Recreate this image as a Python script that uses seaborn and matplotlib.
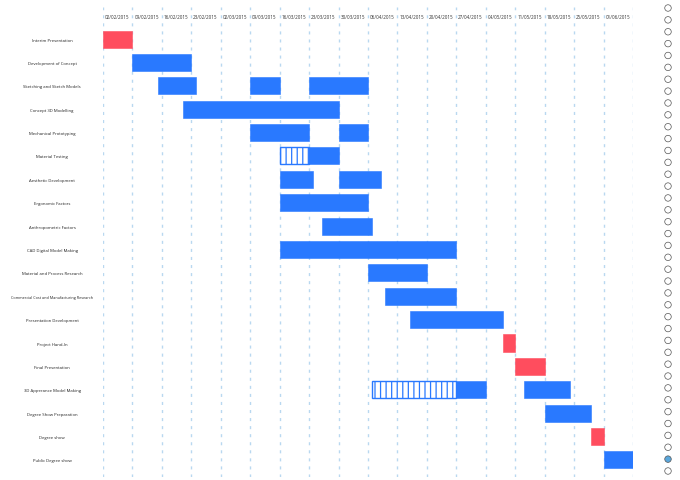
import matplotlib
matplotlib.use("Agg")
import matplotlib.pyplot as plt
import seaborn as sns
import pandas as pd
import numpy as np

# ---------------- data ----------------
tasks = [
    "Interim Presentation", "Development of Concept", "Sketching and Sketch Models",
    "Concept 3D Modelling", "Mechanical Prototyping", "Material Testing",
    "Aesthetic Development", "Ergonomic Factors", "Anthropometric Factors",
    "CAD Digital Model Making", "Material and Process Research",
    "Commercial Cost and Manufacturing Research", "Presentation Development",
    "Project Hand-In", "Final Presentation", "3D Apperance Model Making",
    "Degree Show Preparation", "Degree show", "Public Degree show",
]

seg_task = [0, 1, 2, 2, 2, 3, 4, 4, 5, 5, 6, 6, 7, 8, 9, 10, 11, 12, 13, 14,
            15, 15, 15, 16, 17, 18]
seg_start = ["2015-02-02", "2015-02-09", "2015-02-15", "2015-03-09", "2015-03-23",
             "2015-02-21", "2015-03-09", "2015-03-30", "2015-03-16", "2015-03-23",
             "2015-03-16", "2015-03-30", "2015-03-16", "2015-03-26", "2015-03-16",
             "2015-04-06", "2015-04-10", "2015-04-16", "2015-05-08", "2015-05-11",
             "2015-04-07", "2015-04-27", "2015-05-13", "2015-05-18", "2015-05-29",
             "2015-06-01"]
seg_end = ["2015-02-09", "2015-02-23", "2015-02-24", "2015-03-16", "2015-04-06",
           "2015-03-30", "2015-03-23", "2015-04-06", "2015-03-23", "2015-03-30",
           "2015-03-24", "2015-04-09", "2015-04-06", "2015-04-07", "2015-04-27",
           "2015-04-20", "2015-04-27", "2015-05-08", "2015-05-11", "2015-05-18",
           "2015-04-27", "2015-05-04", "2015-05-24", "2015-05-29", "2015-06-01",
           "2015-06-08"]
seg_kind = ["milestone", "task", "task", "task", "task", "task", "task", "task",
            "planned", "task", "task", "task", "task", "task", "task", "task",
            "task", "task", "milestone", "milestone", "planned", "task", "task",
            "task", "milestone", "task"]

week_labels = ["02/02/2015", "09/02/2015", "16/02/2015", "23/02/2015", "02/03/2015",
               "09/03/2015", "16/03/2015", "23/03/2015", "30/03/2015", "06/04/2015",
               "13/04/2015", "20/04/2015", "27/04/2015", "04/05/2015", "11/05/2015",
               "18/05/2015", "25/05/2015", "01/06/2015"]

n_pages = 40
current_page = 38

# ---------------- drawing ----------------
sns.set_theme(style="white")
plt.rcParams["font.family"] = ["Open Sans", "DejaVu Sans"]
plt.rcParams["hatch.linewidth"] = 0.9

BLUE = "#2979FF"
RED = "#FF4D5E"
GRID = "#B9D8F0"

W, H = 680, 481
fig = plt.figure(figsize=(W / 100, H / 100), dpi=100)
fig.patch.set_facecolor("white")

ax = fig.add_axes([103 / W, 1 - 478 / H, 530 / W, 470 / H])

origin = pd.Timestamp("2015-02-02")
df = pd.DataFrame({
    "task": seg_task,
    "start": (pd.to_datetime(seg_start) - origin).days,
    "end": (pd.to_datetime(seg_end) - origin).days,
    "kind": seg_kind,
})
df["dur"] = df["end"] - df["start"]

bar_h = 0.73
for _, r in df.iterrows():
    if r["kind"] == "planned":
        ax.barh(r["task"], r["dur"], left=r["start"], height=bar_h,
                facecolor="white", edgecolor=BLUE, hatch="|||", linewidth=1.0,
                zorder=3)
    else:
        c = RED if r["kind"] == "milestone" else BLUE
        ax.barh(r["task"], r["dur"], left=r["start"], height=bar_h,
                color=c, edgecolor=c, linewidth=0.4, zorder=3)

span = 7 * len(week_labels)
grid_x = np.arange(0, span + 1, 7)
ax.set_xlim(0, span)
ax.set_ylim(18.73, -1.37)
ax.set_xticks(grid_x)
ax.set_xticklabels([])
ax.tick_params(axis="x", length=0)
for x in grid_x:
    ax.axvline(x, color=GRID, linewidth=1.0, linestyle=(0, (2.2, 3.6)), zorder=1)
for i, lab in enumerate(week_labels):
    ax.text(i * 7 + 0.45, -0.98, lab, fontsize=3.3, color="#333333",
            ha="left", va="center", zorder=4)

ax.set_yticks(range(len(tasks)))
ax.set_yticklabels(tasks, fontsize=3.1, color="#222222", ha="center")
for t in ax.get_yticklabels():
    if len(t.get_text()) > 35:
        t.set_fontsize(2.7)
ax.tick_params(axis="y", length=0, pad=36.7)
for s in ax.spines.values():
    s.set_visible(False)
ax.grid(False)
ax.set_xlabel("")
ax.set_ylabel("")

# pagination dots on the right
ax2 = fig.add_axes([0, 0, 1, 1])
ax2.set_xlim(0, W)
ax2.set_ylim(H, 0)
ax2.axis("off")
pages = pd.DataFrame({"page": np.arange(n_pages)})
pages["x"] = 668
pages["y"] = 9 + pages["page"] * (463 / (n_pages - 1))
pages["fill"] = np.where(pages["page"] == current_page, "#5AA7DC", "white")
ax2.scatter(pages["x"], pages["y"], s=22, c=pages["fill"], edgecolors="#555555",
            linewidths=0.5, zorder=5)

fig.savefig("out.png", dpi=100, facecolor="white")
